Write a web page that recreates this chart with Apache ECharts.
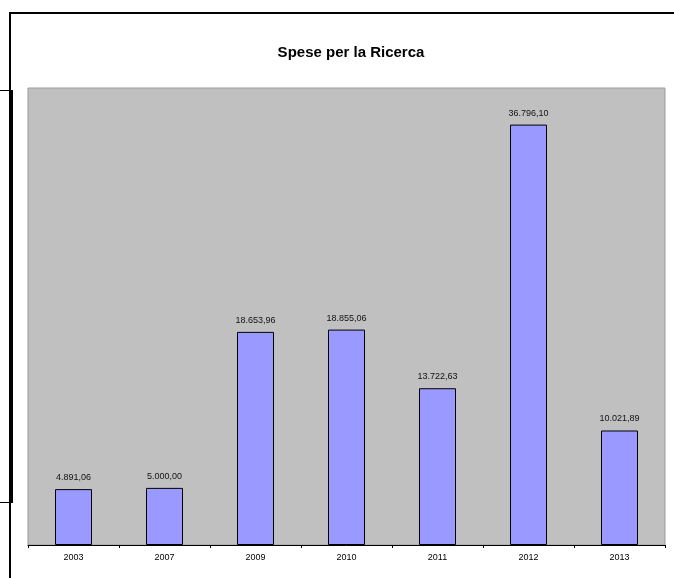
<!DOCTYPE html>
<html><head><meta charset="utf-8">
<script src="https://cdn.jsdelivr.net/npm/echarts@6/dist/echarts.min.js"></script>
<style>html,body{margin:0;padding:0;background:#fff}#c{width:674px;height:578px}</style>
</head><body><div id="c"></div>
<script>
var categories = ['2003','2007','2009','2010','2011','2012','2013'];
var values = [4891.06, 5000.00, 18653.96, 18855.06, 13722.63, 36796.10, 10021.89];
var titleText = 'Spese per la Ricerca';

function fmtIt(v){
  var p = v.toFixed(2).split('.');
  var i = p[0].replace(/\B(?=(\d{3})+(?!\d))/g, '.');
  return i + ',' + p[1];
}

var chart = echarts.init(document.getElementById('c'), null, {renderer:'canvas'});
chart.setOption({
  animation:false,
  textStyle:{fontFamily:'Liberation Sans, Arial, sans-serif'},
  title:{text:titleText, left:346, top:40, textAlign:'center',
    textStyle:{fontSize:15, fontWeight:'bold', color:'#000', fontFamily:'Liberation Sans, Arial, sans-serif'}},
  grid:{left:28, right:9, top:88, bottom:33, show:true, backgroundColor:'#C0C0C0', borderColor:'#9a9a9a', borderWidth:1},
  xAxis:{type:'category', data:categories,
    axisLine:{lineStyle:{color:'#000', width:1}},
    axisTick:{show:true, length:3, lineStyle:{color:'#000'}},
    axisLabel:{fontSize:9, color:'#000', margin:8, fontFamily:'Liberation Sans, Arial, sans-serif'}},
  yAxis:{type:'value', min:0, max:40000, show:false, splitLine:{show:false}},
  series:[{type:'bar', data:values, barWidth:37,
    itemStyle:{color:'#9999FF', borderColor:'#000', borderWidth:1},
    label:{show:true, position:'top', distance:7, fontSize:9, color:'#111',
      fontFamily:'Liberation Sans, Arial, sans-serif',
      formatter:function(p){return fmtIt(p.value);}}}],
  graphic:[
    {type:'polyline', shape:{points:[[10,578],[10,13],[674,13]]}, style:{stroke:'#000', lineWidth:2, fill:null}},
    {type:'line', shape:{x1:0,y1:90.5,x2:12,y2:90.5}, style:{stroke:'#000', lineWidth:1}},
    {type:'line', shape:{x1:0,y1:502.5,x2:12,y2:502.5}, style:{stroke:'#000', lineWidth:1}},
    {type:'rect', shape:{x:9,y:90,width:4,height:413}, style:{fill:'#000'}}
  ]
});
</script></body></html>
